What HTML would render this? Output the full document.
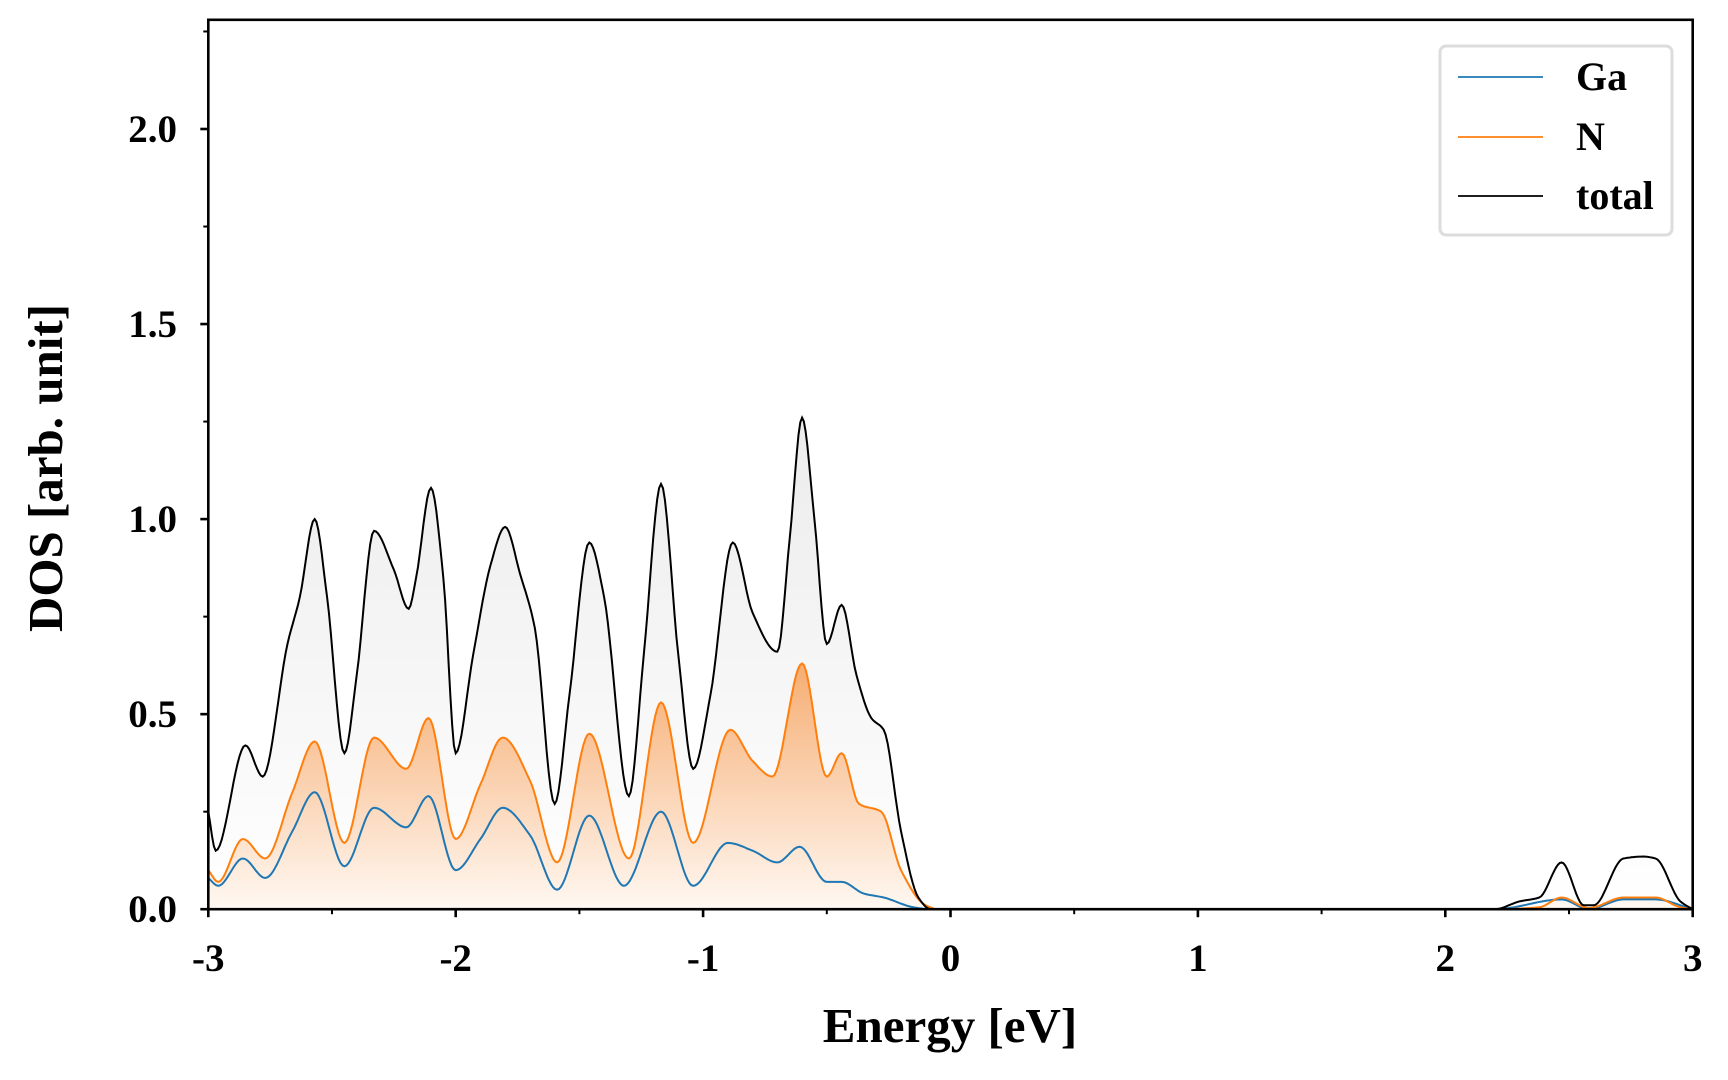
<!DOCTYPE html>
<html><head><meta charset="utf-8"><style>
html,body{margin:0;padding:0;background:#fff;}
svg{display:block;}
text{font-family:"Liberation Serif",serif;font-weight:bold;fill:#000;}
</style></head><body>
<svg id="s" width="1728" height="1080" viewBox="0 0 1728 1080" xmlns="http://www.w3.org/2000/svg">
<defs>
<linearGradient id="gt" x1="0" y1="0" x2="0" y2="1">
<stop offset="0" stop-color="#ececec"/><stop offset="1" stop-color="#ffffff"/></linearGradient>
<linearGradient id="gn" x1="0" y1="0" x2="0" y2="1">
<stop offset="0" stop-color="#f6ad72"/><stop offset="1" stop-color="#fff8f2"/></linearGradient>
<clipPath id="cp"><rect x="208" y="20" width="1485" height="890"/></clipPath>
</defs>
<g id="plot" clip-path="url(#cp)"></g>
<g id="ax"></g>
<rect x="1440" y="46" width="232" height="189" rx="6" fill="#fff" stroke="#dcdcdc" stroke-width="3"/>
<line x1="1458" y1="77" x2="1543" y2="77" stroke="#1f77b4" stroke-width="1.8"/>
<line x1="1458" y1="137" x2="1543" y2="137" stroke="#ff7f0e" stroke-width="1.8"/>
<line x1="1458" y1="196" x2="1543" y2="196" stroke="#000" stroke-width="1.8"/>
<text x="1576" y="90" font-size="40">Ga</text>
<text x="1576" y="150" font-size="40">N</text>
<text x="1576" y="209" font-size="40">total</text>
<text x="950" y="1042" font-size="49" text-anchor="middle">Energy [eV]</text>
<text transform="translate(62,468) rotate(-90)" font-size="49" text-anchor="middle">DOS [arb. unit]</text>
</svg>
<script>
const X0=208.3,SX=247.4,Y0=909.2,SY=390.1;
const px=e=>X0+(e+3)*SX, py=v=>Y0-v*SY;
const T=[[-3,0.25],[-2.97,0.15],[-2.85,0.42],[-2.78,0.34],[-2.68,0.68],[-2.63,0.8],[-2.57,1.0],[-2.52,0.8],[-2.45,0.40],[-2.4,0.6],[-2.33,0.97],[-2.25,0.87],[-2.19,0.77],[-2.16,0.85],[-2.1,1.08],[-2.05,0.85],[-2.0,0.40],[-1.93,0.65],[-1.86,0.88],[-1.8,0.98],[-1.74,0.86],[-1.68,0.72],[-1.6,0.27],[-1.54,0.55],[-1.46,0.94],[-1.4,0.8],[-1.3,0.29],[-1.24,0.65],[-1.17,1.09],[-1.1,0.65],[-1.04,0.36],[-0.97,0.55],[-0.88,0.94],[-0.8,0.76],[-0.7,0.66],[-0.65,0.95],[-0.6,1.26],[-0.55,1.0],[-0.5,0.68],[-0.44,0.78],[-0.38,0.6],[-0.32,0.49],[-0.27,0.46],[-0.2,0.2],[-0.13,0.03],[-0.08,0],[2.2,0],[2.3,0.02],[2.38,0.03],[2.47,0.12],[2.56,0.01],[2.6,0.01],[2.72,0.13],[2.8,0.135],[2.85,0.13],[2.95,0.02],[3,0]];
const N=[[-3,0.1],[-2.96,0.07],[-2.86,0.18],[-2.77,0.13],[-2.66,0.3],[-2.57,0.43],[-2.45,0.17],[-2.33,0.44],[-2.2,0.36],[-2.11,0.49],[-2.0,0.18],[-1.9,0.32],[-1.81,0.44],[-1.7,0.33],[-1.59,0.12],[-1.46,0.45],[-1.3,0.13],[-1.17,0.53],[-1.04,0.17],[-0.89,0.46],[-0.8,0.38],[-0.72,0.34],[-0.6,0.63],[-0.5,0.34],[-0.44,0.4],[-0.37,0.27],[-0.28,0.25],[-0.2,0.1],[-0.1,0.01],[-0.05,0],[2.2,0],[2.38,0.005],[2.47,0.03],[2.58,0.003],[2.72,0.03],[2.85,0.03],[2.95,0.005],[3,0]];
const G=[[-3,0.08],[-2.96,0.06],[-2.86,0.13],[-2.77,0.08],[-2.66,0.2],[-2.57,0.3],[-2.45,0.11],[-2.33,0.26],[-2.2,0.21],[-2.11,0.29],[-2.0,0.1],[-1.9,0.18],[-1.81,0.26],[-1.7,0.19],[-1.59,0.05],[-1.46,0.24],[-1.32,0.06],[-1.17,0.25],[-1.04,0.06],[-0.9,0.17],[-0.8,0.15],[-0.7,0.12],[-0.61,0.16],[-0.5,0.07],[-0.44,0.07],[-0.35,0.04],[-0.27,0.03],[-0.15,0.005],[-0.08,0],[2.2,0],[2.47,0.025],[2.58,0],[2.72,0.025],[2.85,0.025],[3,0]];
function path(d){
  const n=d.length,x=d.map(a=>a[0]),y=d.map(a=>a[1]);
  const h=[],dl=[];
  for(let i=0;i<n-1;i++){h[i]=x[i+1]-x[i];dl[i]=(y[i+1]-y[i])/h[i];}
  const m=[];m[0]=dl[0];m[n-1]=dl[n-2];
  for(let i=1;i<n-1;i++){
    if(dl[i-1]*dl[i]<=0)m[i]=0;
    else{const w1=2*h[i]+h[i-1],w2=h[i]+2*h[i-1];m[i]=(w1+w2)/(w1/dl[i-1]+w2/dl[i]);}
  }
  let s="";
  for(let i=0;i<n-1;i++){
    const steps=Math.max(2,Math.ceil(h[i]*SX/2));
    for(let k=(i==0?0:1);k<=steps;k++){
      const t=k/steps,t2=t*t,t3=t2*t;
      const v=(2*t3-3*t2+1)*y[i]+(t3-2*t2+t)*h[i]*m[i]+(-2*t3+3*t2)*y[i+1]+(t3-t2)*h[i]*m[i+1];
      const e=x[i]+t*h[i];
      s+=(s?" L":"M")+px(e).toFixed(1)+","+py(Math.max(0,v)).toFixed(1);
    }
  }
  return s;
}
const NS="http://www.w3.org/2000/svg";
function el(parent,tag,attrs,txt){const e=document.createElementNS(NS,tag);for(const k in attrs)e.setAttribute(k,attrs[k]);if(txt!==undefined)e.textContent=txt;document.getElementById(parent).appendChild(e);return e;}
const tp=path(T),np=path(N),gp=path(G);
const close=" L"+px(3)+","+Y0+" L"+px(-3)+","+Y0+" Z";
el("plot","path",{d:tp+close,fill:"url(#gt)"});
el("plot","path",{d:np+close,fill:"url(#gn)"});
el("plot","path",{d:gp,fill:"none",stroke:"#1f77b4","stroke-width":2});
el("plot","path",{d:np,fill:"none",stroke:"#ff7f0e","stroke-width":2});
el("plot","path",{d:tp,fill:"none",stroke:"#000","stroke-width":2});
el("ax","rect",{x:208.3,y:19.8,width:1484.4,height:889.4,fill:"none",stroke:"#000","stroke-width":2.6});
for(let e=-3;e<=3;e+=0.5){
  const maj=Math.abs(e-Math.round(e))<1e-6;const x=px(e);
  el("ax","line",{x1:x,y1:Y0,x2:x,y2:Y0+(maj?8:5),stroke:"#000","stroke-width":maj?2.6:2});
  if(maj) el("ax","text",{x:x,y:971,"font-size":39,"text-anchor":"middle"},e<0?"-"+(-e):String(e));
}
for(let k=0;k<=9;k++){
  const v=k*0.25;const maj=k%2==0;const y=py(v);
  el("ax","line",{x1:X0,y1:y,x2:X0-(maj?8:5),y2:y,stroke:"#000","stroke-width":maj?2.6:2});
  if(maj) el("ax","text",{x:177,y:y+13,"font-size":39,"text-anchor":"end"},v.toFixed(1));
}
</script>
</body></html>
